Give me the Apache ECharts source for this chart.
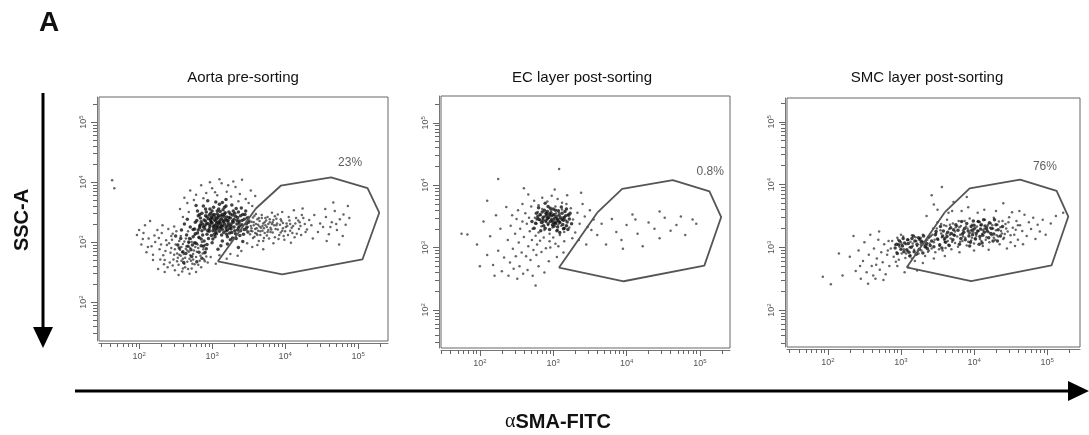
<!DOCTYPE html>
<html><head><meta charset="utf-8">
<script src="https://cdn.jsdelivr.net/npm/echarts@6/dist/echarts.min.js"></script>
<style>html,body{margin:0;padding:0;background:#fff}#chart{width:1089px;height:435px}</style>
</head><body><div id="chart"></div>
<script>
// ---- data (all coordinates are log10 of intensity: [aSMA-FITC, SSC-A]) ----
const panelTitles = ['Aorta pre-sorting', 'EC layer post-sorting', 'SMC layer post-sorting'];
const gatePercents = ['23%', '0.8%', '76%'];
const gateLabelAnchor = [[4.89, 4.33], [5.14, 4.22], [4.97, 4.28]];
const majorTicks = [2, 3, 4, 5];          // 10^2 .. 10^5
const decades = [1, 2, 3, 4, 5];
const minorMultipliers = [2, 3, 4, 5, 6, 7, 8, 9];
const xAxisTitle = 'SMA-FITC';
const yAxisTitle = 'SSC-A';

const gateVertices = [[3.60,3.56],[3.94,3.94],[4.63,4.08],[5.13,3.90],[5.29,3.49],[5.06,2.71],[3.96,2.46],[3.08,2.68]];

// Aorta pre-sorting: dense core events
const aortaDense = [
[2.74,3.21],[3.17,3.58],[2.93,2.96],[3.41,3.29],[3.05,3.67],[2.81,3.44],[3.28,3.07],[2.99,3.33],[3.46,3.52],[2.87,3.12],
[3.12,3.25],[3.36,2.91],[2.78,3.61],[3.23,3.41],[2.96,3.18],[3.08,2.88],[3.49,3.17],[2.84,3.29],[3.19,3.71],[3.01,3.05],
[3.31,3.48],[2.91,3.55],[3.14,3.02],[2.76,2.99],[3.44,3.38],[3.03,3.46],[3.26,3.22],[2.89,3.37],[3.1,3.63],[3.38,3.11],
[2.97,3.26],[3.21,2.97],[2.82,3.08],[3.15,3.35],[3.47,3.24],[3.06,3.14],[2.94,3.69],[3.33,3.56],[2.79,3.36],[3.24,3.15],
[3.0,3.4],[3.18,3.49],[2.86,3.19],[3.39,3.44],[3.09,3.3],[2.92,2.89],[3.29,3.33],[3.02,3.58],[3.42,3.01],[2.8,3.52],
[3.13,3.12],[2.98,3.48],[3.35,3.2],[3.07,3.22],[2.9,3.27],[3.2,3.27],[3.5,3.33],[2.85,2.94],[3.27,3.62],[3.04,3.09],
[3.16,3.43],[2.95,3.39],[3.37,3.35],[3.11,3.51],[2.83,3.24],[3.25,3.04],[3.01,3.19],[3.45,3.46],[2.88,3.6],[3.22,3.36],
[3.06,3.31],[2.93,3.13],[3.32,3.14],[3.14,3.66],[2.77,3.14],[3.4,3.57],[3.0,2.99],[3.19,3.19],[2.97,3.55],[3.3,3.25],
[3.08,3.41],[2.91,3.44],[3.23,3.5],[3.12,2.94],[3.43,3.13],[2.86,3.48],[3.04,3.28],[3.35,3.41],[2.99,3.11],[3.17,3.3],
[3.28,3.45],[2.94,3.31],[3.1,3.18],[3.48,3.4],[2.81,3.2],[3.21,3.09],[3.03,3.37],[3.38,3.27],[2.89,3.02],[3.15,3.54],
[3.26,3.3],[3.07,3.47],[2.96,3.22],[3.33,3.06],[3.11,3.37],[2.84,3.4],[3.44,3.21],[3.02,3.24],[3.2,3.42],[2.92,3.5],
[3.13,3.27],[3.36,3.5],[3.05,3.17],[2.98,3.35],[3.24,3.23],[3.09,3.55],[2.87,3.3],[3.3,3.38],[3.16,3.16],[3.0,3.32],
[3.41,3.36],[2.95,3.06],[3.19,3.6],[3.06,3.39],[3.27,3.16],[2.9,3.22],[3.12,3.44],[3.34,3.3],[3.04,3.21],[2.93,3.42],
[3.22,3.32],[3.08,3.26],[3.18,3.38],[2.97,3.29],[3.29,3.52],[3.14,3.21],[3.01,3.45],[3.25,3.4],[3.1,3.34],[3.39,3.19],
[2.85,3.34],[3.2,3.13],[3.07,3.52],[2.99,3.42],[3.32,3.43],[3.15,3.27],[2.91,3.35],[3.03,3.13],[3.23,3.28],[3.11,3.23],
[3.47,3.3],[2.88,3.25],[3.17,3.47],[3.05,3.35],[3.28,3.35],[2.96,3.45],[3.13,3.39],[3.36,3.24],[3.02,3.27],[3.21,3.2],
[3.09,3.44],[2.94,3.19],[3.31,3.19],[3.16,3.34],[3.0,3.52],[3.25,3.47],[3.06,3.25],[2.83,3.46],[3.42,3.46],[3.12,3.31],
[3.19,3.24],[2.98,3.38],[3.34,3.36],[3.08,3.33],[3.26,3.26],[2.92,3.3],[3.14,3.46],[3.04,3.42],[3.37,3.32],[3.2,3.36],
[2.65,3.12],[2.7,3.25],[2.58,3.2],[2.73,2.95],[2.62,3.3],[2.8,3.15],[2.67,2.93],[2.76,3.22],[2.85,3.05],[2.69,3.06],
[2.6,2.84],[2.82,2.83],[2.74,3.09],[2.88,2.93],[2.78,2.98],[2.53,2.95],[2.57,3.06],[2.64,2.81],[2.71,2.87],[2.86,2.73],
[2.5,3.1],[2.77,3.33],[2.66,3.38],[2.83,3.27],[2.72,2.76],[2.61,2.66],[2.55,2.9],[2.79,2.67],[2.9,2.82],[2.68,3.0]
];
// Aorta pre-sorting: surrounding events (left lobe, right tail, sparse)
const aortaSparse = [
[2.52,2.81],[2.71,3.05],[2.38,2.95],[2.63,2.58],[2.84,2.77],[2.46,3.14],[2.58,2.69],[2.77,2.92],[2.33,2.78],[2.69,2.47],
[2.55,3.02],[2.81,2.62],[2.42,2.66],[2.66,2.86],[2.27,3.07],[2.74,2.71],[2.49,2.53],[2.6,2.97],[2.86,3.0],[2.36,2.85],
[2.67,3.18],[2.53,2.74],[2.79,2.84],[2.44,2.9],[2.62,2.64],[2.72,2.56],[2.3,2.96],[2.57,3.1],[2.83,2.69],[2.48,2.79],
[2.65,2.93],[2.4,3.22],[2.76,3.12],[2.59,2.51],[2.5,2.96],[2.7,2.78],[2.35,2.7],[2.88,2.88],[2.61,2.8],[2.45,3.04],
[2.78,2.5],[2.54,2.62],[2.68,2.99],[2.39,2.58],[2.82,3.07],[2.56,2.87],[2.73,2.64],[2.47,2.71],[2.64,3.06],[2.31,3.15],
[2.8,2.96],[2.51,3.18],[2.69,2.72],[2.43,2.82],[2.6,2.56],[2.75,2.86],[2.37,3.03],[2.57,2.77],[2.85,2.58],[2.66,2.67],
[2.49,2.88],[2.72,3.0],[2.28,2.88],[2.63,2.74],[2.54,2.45],[2.78,2.75],[2.41,2.98],[2.67,2.55],[2.87,2.81],[2.58,2.92],
[2.34,2.63],[2.7,2.9],[2.52,2.68],[2.81,2.9],[2.46,2.61],[2.62,3.01],[2.74,2.8],[2.44,3.1],[2.59,2.83],[2.89,2.71],
[2.22,3.0],[2.19,2.79],[2.25,3.2],[2.17,2.93],[2.29,2.71],[2.26,2.55],[2.32,3.28],[2.48,3.26],[2.21,3.11],[2.35,2.5],
[2.9,2.95],[2.92,2.76],[2.94,2.66],[2.91,2.84],[2.76,2.63],[2.68,2.84],[2.55,2.79],[2.64,2.89],[2.71,2.69],[2.6,2.72],
[3.53,3.27],[3.58,3.09],[3.62,3.38],[3.55,3.18],[3.67,3.24],[3.6,3.47],[3.72,3.15],[3.57,3.33],[3.64,3.02],[3.7,3.31],
[3.76,3.42],[3.52,3.13],[3.81,3.21],[3.66,3.12],[3.74,3.36],[3.59,3.22],[3.85,3.28],[3.78,3.06],[3.63,3.29],[3.88,3.39],
[3.69,3.19],[3.92,3.12],[3.56,3.41],[3.83,3.33],[3.75,3.25],[3.97,3.23],[3.61,3.14],[3.9,3.46],[3.8,3.17],[4.02,3.31],
[3.68,3.4],[3.86,3.08],[3.95,3.35],[3.73,3.28],[4.07,3.19],[3.54,3.23],[3.99,3.04],[3.79,3.38],[4.11,3.27],[3.65,3.35],
[3.87,3.22],[4.05,3.42],[3.71,3.07],[3.93,3.29],[4.16,3.14],[3.82,3.49],[4.0,3.18],[4.2,3.33],[3.77,3.3],[4.09,3.24],
[3.94,3.16],[4.25,3.4],[3.89,3.31],[4.13,3.08],[4.03,3.27],[4.3,3.21],[4.18,3.36],[3.96,3.5],[4.36,3.28],[4.22,3.12],
[4.4,3.45],[4.27,3.3],[4.12,3.53],[4.45,3.17],[4.33,3.37],[4.08,2.99],[4.48,3.31],[3.84,2.98],[4.38,3.06],[4.24,3.56],
[3.51,3.36],[3.56,3.07],[3.6,3.3],[3.63,3.19],[3.68,3.45],[3.71,3.23],[3.75,3.11],[3.79,3.33],[3.83,3.16],[3.86,3.43],
[3.9,3.21],[3.94,3.38],[3.98,3.1],[4.01,3.25],[4.06,3.36],[4.1,3.15],[4.14,3.31],[4.19,3.22],[4.23,3.45],[4.28,3.17],
[3.53,3.19],[3.58,3.44],[3.65,3.26],[3.7,3.02],[3.77,3.2],[3.84,3.37],[3.91,3.05],[3.97,3.32],[4.04,3.12],[4.15,3.4],
[3.49,3.25],[3.62,3.12],[3.73,3.4],[3.8,3.24],[3.88,3.28],[3.96,3.19],[4.07,3.3],[4.21,3.27],[3.57,3.28],[3.66,3.18],
[3.54,3.34],[3.61,3.23],[3.69,3.27],[3.76,3.17],[3.82,3.3],[3.47,3.2],[3.5,3.42],[3.59,3.15],[3.64,3.4],[3.72,3.33],
[4.52,3.25],[4.56,3.42],[4.6,3.13],[4.64,3.33],[4.68,3.52],[4.71,3.2],[4.75,3.38],[4.79,3.1],[4.83,3.29],[4.86,3.6],
[4.57,3.02],[4.66,3.66],[4.74,2.96],[4.88,3.4],[4.62,3.25],[4.8,3.46],[4.55,3.55],[4.7,3.3],
[2.62,3.74],[2.7,3.86],[2.78,3.79],[2.85,3.95],[2.92,3.82],[3.0,3.9],[3.07,3.78],[3.13,3.98],[3.2,3.84],[3.26,3.76],
[3.32,3.92],[3.38,3.8],[3.41,4.04],[3.46,3.72],[3.53,3.86],[3.59,3.77],[3.1,4.05],[2.97,4.0],[3.29,4.01],[2.75,3.7],
[2.66,3.65],[3.04,3.83],[3.22,3.95],[2.88,3.73],[3.5,3.65],[3.36,3.68],[2.56,3.55],[2.6,3.42],[2.68,3.5],[3.55,3.6],
[1.97,3.12],[2.03,2.96],[2.08,3.28],[2.1,2.83],[2.13,3.06],[2.15,3.35],[2.06,3.15],[2.19,2.7],[1.63,4.03],[1.66,3.9],
[2.0,3.2],[2.12,2.92],[2.05,3.05],
[3.4,2.85],[3.55,2.92],[3.7,2.88],[3.25,2.8],[3.1,2.78],[2.98,2.75],[2.9,2.68],[3.2,2.72],[3.05,2.64],[3.35,2.77],
[3.48,2.98],[3.62,2.95]
];

// EC layer post-sorting
const ecDense = [
[2.71,3.42],[2.96,3.63],[3.15,3.31],[2.83,3.27],[3.04,3.5],[2.89,3.71],[3.22,3.46],[2.77,3.55],[3.09,3.24],[2.93,3.38],
[3.18,3.62],[2.86,3.48],[3.01,3.34],[2.74,3.31],[3.12,3.55],[2.95,3.29],[3.25,3.38],[2.8,3.64],[3.07,3.43],[2.91,3.52],
[3.2,3.29],[2.84,3.4],[3.03,3.6],[2.98,3.45],[3.14,3.44],[2.78,3.46],[3.06,3.33],[2.92,3.58],[3.17,3.51],[2.87,3.35],
[3.0,3.4],[3.11,3.65],[2.94,3.49],[3.23,3.55],[2.82,3.53],[3.05,3.27],[2.97,3.56],[3.13,3.37],[2.88,3.6],[3.02,3.47],
[3.19,3.41],[2.9,3.43],[3.08,3.52],[2.76,3.39],[3.16,3.58],[2.99,3.36],[3.1,3.48],[2.85,3.57],[3.04,3.41],[2.93,3.66],
[3.21,3.52],[2.81,3.45],[3.01,3.53],[3.14,3.3],[2.96,3.42],[3.07,3.59],[2.89,3.31],[3.12,3.45],[2.95,3.54],[3.03,3.38],
[2.79,3.5],[3.18,3.35],[2.92,3.47],[3.09,3.4],[3.0,3.62],[2.86,3.44],[3.15,3.48],[2.98,3.51],[3.06,3.46],[2.9,3.55]
];
const ecSparse = [
[2.72,3.3],[2.75,3.48],[2.77,3.38],[2.79,3.57],[2.8,3.24],[2.82,3.44],[2.84,3.34],[2.85,3.62],[2.87,3.5],[2.88,3.28],
[2.9,3.41],[2.91,3.55],[2.93,3.36],[2.94,3.47],[2.95,3.22],[2.97,3.6],[2.98,3.43],[2.99,3.32],[3.0,3.52],[3.02,3.39],
[3.03,3.66],[3.05,3.46],[3.06,3.28],[3.08,3.56],[3.09,3.41],[3.11,3.35],[3.12,3.61],[3.14,3.49],[3.15,3.25],[3.17,3.44],
[3.18,3.7],[3.2,3.53],[2.92,3.45],[2.96,3.52],[3.01,3.44],[2.86,3.4],[3.04,3.55],[2.89,3.5],[3.07,3.37],[2.83,3.52],
[2.38,3.12],[2.42,3.35],[2.45,2.98],[2.48,3.22],[2.5,3.46],[2.53,3.08],[2.55,3.3],[2.57,2.92],[2.6,3.17],[2.62,3.55],
[2.64,3.38],[2.66,3.02],[2.68,3.26],[2.7,3.66],[2.71,3.12],[2.73,2.96],[2.74,3.75],[2.76,3.19],[2.78,3.05],[2.8,3.68],
[2.82,3.11],[2.85,3.8],[2.87,3.16],[2.9,2.99],[2.92,3.74],[2.95,3.1],[2.98,3.83],[3.0,3.16],[3.03,3.06],[3.06,3.78],
[3.09,3.2],[3.12,3.72],[3.15,3.1],[3.19,3.84],[3.22,3.32],[3.24,3.63],[3.27,3.45],[3.3,3.24],[3.33,3.56],[3.36,3.38],
[3.4,3.7],[3.43,3.5],[3.47,3.33],[3.5,3.6],[2.58,3.42],[2.67,3.48],[2.52,3.6],[2.44,3.52],[2.63,2.86],[2.69,2.8],
[2.77,2.88],[2.84,2.93],[2.96,3.0],[3.07,3.02],[3.26,3.15],[3.35,3.12],[2.58,3.7],[2.66,3.85],[3.02,3.93],
[1.75,3.22],[1.83,3.21],[1.96,3.05],[2.05,3.42],[2.1,2.88],[2.14,3.18],[2.18,2.72],[2.22,3.52],[2.25,2.95],[2.28,3.3],
[2.3,2.62],[2.33,2.84],[2.36,3.65],[2.39,2.55],[2.41,2.76],[2.46,2.66],[2.49,2.86],[2.51,2.5],[2.54,2.7],[2.59,2.58],
[2.65,2.64],[2.72,2.55],[2.76,2.39],[2.8,2.7],[2.88,2.6],[2.94,2.78],[3.05,2.85],[3.14,2.92],[2.25,4.1],[2.1,3.75],
[3.08,4.26],[2.6,3.95],[2.0,2.7],[2.2,2.55],[3.38,3.88],[3.45,3.05],[3.52,3.28],[3.55,3.45],
[3.6,3.2],[3.66,3.38],[3.72,3.05],[3.8,3.46],[3.86,3.25],[3.93,3.12],[4.0,3.36],[4.08,3.53],[4.15,3.22],[4.22,3.02],
[4.3,3.4],[4.38,3.3],[4.45,3.15],[4.52,3.48],[4.6,3.27],[4.68,3.36],[4.74,3.5],[4.8,3.2],[4.9,3.45],[4.95,3.38],
[4.45,3.58],[3.95,2.98],[4.12,3.45]
];

// SMC layer post-sorting
const smcDense = [
[2.92,2.99],[3.05,3.07],[3.18,2.93],[3.26,3.12],[3.12,2.86],[2.98,3.1],[3.33,3.01],[3.08,2.96],[3.22,3.05],[2.95,2.9],
[3.15,3.14],[3.3,2.91],[3.02,3.02],[3.38,3.16],[3.1,3.06],[3.25,2.97],[2.97,3.04],[3.19,3.1],[3.35,3.06],[3.04,2.93],
[3.14,3.0],[3.28,3.08],[3.0,2.97],[3.21,2.89],[3.36,2.98],[3.09,3.12],[3.24,3.15],[3.42,3.1],[3.47,3.2],[3.53,3.04],
[3.58,3.26],[3.5,3.13],[3.63,3.17],[3.56,2.99],[3.68,3.31],[3.61,3.08],[3.73,3.19],[3.66,3.03],[3.78,3.27],[3.71,3.12],
[3.45,3.01],[3.54,3.33],[3.6,3.14],[3.75,3.36],[3.69,3.22],[3.82,3.14],[3.87,3.3],[3.84,3.21],[3.9,3.38],[3.93,3.18],
[3.97,3.27],[3.95,3.08],[4.0,3.35],[4.03,3.22],[4.06,3.41],[4.02,3.13],[4.09,3.29],[4.12,3.19],[4.15,3.34],[4.11,3.07],
[4.18,3.26],[4.21,3.39],[4.2,3.15],[4.24,3.3],[4.27,3.21],[4.3,3.36],[4.26,3.1],[4.33,3.28],[4.36,3.18],[4.39,3.33],
[3.88,3.12],[3.92,3.26],[3.98,3.2],[4.05,3.26],[4.08,3.17],[4.14,3.24],[3.86,3.24],[4.0,3.29],[4.17,3.3],[4.23,3.22],
[3.99,3.42],[4.13,3.44],[3.83,3.41],[4.28,3.44],[4.07,3.05],[3.94,3.02],[4.32,3.1],[3.8,3.05],[4.1,3.36],[3.96,3.33],
[3.48,3.25],[3.64,3.24],[3.72,3.28],[3.57,3.18],[3.4,3.03],[3.31,3.18],[3.17,3.18],[3.03,3.14],[2.94,3.05],[3.11,2.92]
];
const smcSparse = [
[2.86,2.98],[2.88,3.1],[2.9,2.85],[2.92,3.04],[2.94,2.92],[2.95,3.15],[2.97,2.8],[2.98,3.01],[3.0,3.08],[3.01,2.9],
[3.03,3.17],[3.04,2.97],[3.06,2.83],[3.07,3.05],[3.09,2.94],[3.1,3.12],[3.12,3.0],[3.13,2.87],[3.15,3.19],[3.16,3.06],
[3.18,2.96],[3.19,2.78],[3.21,3.1],[3.22,3.02],[3.24,2.9],[3.25,3.14],[3.27,3.04],[3.28,2.95],[3.3,3.2],[3.31,3.08],
[3.33,2.86],[3.34,3.0],[3.36,3.12],[3.37,2.93],[3.39,3.06],[2.93,2.77],[3.15,2.82],[3.29,3.1],[3.35,3.03],[3.0,3.2],
[3.41,3.18],[3.42,2.98],[3.44,3.3],[3.45,3.08],[3.47,2.92],[3.48,3.22],[3.5,3.4],[3.51,3.12],[3.53,3.02],[3.54,3.27],
[3.56,3.16],[3.57,2.95],[3.59,3.35],[3.6,3.09],[3.62,3.21],[3.63,3.44],[3.65,3.04],[3.66,3.29],[3.68,3.14],[3.69,2.97],
[3.71,3.38],[3.72,3.2],[3.74,3.07],[3.75,3.32],[3.77,3.17],[3.78,3.01],[3.79,3.42],[3.55,3.37],[3.61,2.99],[3.67,3.36],
[3.81,3.2],[3.82,3.34],[3.84,3.1],[3.85,3.27],[3.87,3.42],[3.88,3.15],[3.9,3.03],[3.91,3.3],[3.93,3.22],[3.94,3.46],
[3.96,3.11],[3.97,3.36],[3.99,3.24],[4.0,3.06],[4.02,3.31],[4.03,3.18],[4.05,3.41],[4.06,3.26],[4.08,3.13],[4.09,3.35],
[4.11,3.21],[4.12,3.02],[4.14,3.29],[4.15,3.44],[4.17,3.16],[4.18,3.33],[4.2,3.24],[4.21,3.08],[4.23,3.38],[4.24,3.19],
[4.26,3.3],[4.27,3.47],[4.29,3.12],[4.3,3.27],[4.32,3.36],[4.33,3.17],[4.35,3.05],[4.36,3.32],[4.38,3.22],[4.39,3.42],
[2.96,3.12],[3.07,2.9],[3.16,3.02],[3.27,3.15],[3.38,2.95],[3.46,3.12],[3.55,3.22],[3.62,3.34],[3.7,3.09],[3.77,3.34],
[3.85,3.17],[3.92,3.09],[4.01,3.14],[4.08,3.4],[4.16,3.12],[4.25,3.35],[4.31,3.19],[4.37,3.26],[4.44,3.3],[4.5,3.19],
[3.01,3.05],[3.13,3.09],[3.23,2.94],[3.34,3.1],[3.43,3.2],[3.52,2.97],[3.59,3.12],[3.67,3.2],[3.74,3.25],[3.81,3.09],
[3.89,3.33],[3.97,3.15],[4.04,3.33],[4.12,3.27],[4.19,3.36],[4.27,3.15],[4.34,3.41],[4.42,3.21],[4.47,3.4],[4.57,3.28],
[3.2,3.16],[3.32,3.04],[3.49,3.3],[3.64,3.1],[3.8,3.32],[3.95,3.23],[4.1,3.1],[4.22,3.31],[4.4,3.13],[4.6,3.35],
[4.41,3.15],[4.43,3.37],[4.46,3.25],[4.48,3.48],[4.5,3.08],[4.53,3.31],[4.55,3.2],[4.58,3.42],[4.6,3.12],[4.63,3.35],
[4.66,3.26],[4.69,3.52],[4.72,3.18],[4.75,3.4],[4.78,3.29],[4.81,3.47],[4.84,3.13],[4.87,3.36],[4.9,3.25],[4.94,3.44],
[4.98,3.2],[5.05,3.38],[5.12,3.5],[5.22,3.55],[4.52,3.56],[4.67,3.05],[4.45,2.98],[4.62,3.58],[4.56,3.02],
[3.42,3.83],[3.56,3.96],[3.5,3.6],[3.65,3.55],[3.72,3.72],[3.83,3.58],[3.92,3.64],[4.05,3.55],[4.14,3.6],[4.3,3.58],
[3.7,3.58],[3.35,3.5],[3.45,3.68],[4.4,3.7],[3.9,3.8],
[2.95,2.7],[3.1,2.68],[3.3,2.75],[3.45,2.82],[3.6,2.86],[3.8,2.92],[4.0,2.95],[4.2,2.96],[3.22,2.63],[3.05,2.6],
[2.3,2.85],[2.35,3.18],[2.38,2.62],[2.42,2.95],[2.45,2.5],[2.48,2.78],[2.5,3.08],[2.53,2.6],[2.56,2.88],[2.58,3.2],
[2.6,2.7],[2.63,2.98],[2.65,2.5],[2.67,2.82],[2.69,3.12],[2.71,2.64],[2.73,2.92],[2.75,2.76],[2.77,3.05],[2.79,2.57],
[2.81,2.88],[2.83,3.1],[2.84,2.7],[2.7,3.25],[2.55,2.42],[2.62,2.55],[2.76,2.48],[2.44,2.7],[2.82,2.95],[2.66,2.72],
[1.93,2.53],[2.04,2.41],[2.2,2.55],[2.15,2.9]
];

const panelDense = [aortaDense, ecDense, smcDense];
const panelSparse = [aortaSparse, ecSparse, smcSparse];

// ---- layout ----
const grids = [
  {left: 99, top: 97, width: 289, height: 244},
  {left: 441, top: 96, width: 289, height: 252},
  {left: 787, top: 98, width: 293, height: 249}
];
const xRanges = [[1.45, 5.41], [1.47, 5.41], [1.44, 5.45]];
const yRanges = [[1.35, 5.42], [1.39, 5.43], [1.41, 5.38]];
const titleCenters = [243, 582, 927];

function minorTicksWithin(r) {
  const out = [];
  decades.forEach(d => minorMultipliers.forEach(m => {
    const v = d + Math.log10(m);
    if (v > r[0] && v < r[1]) out.push(v);
  }));
  return out;
}

const tickColor = '#666';
const labelRich = {
  b: {fontSize: 9, color: '#555', fontFamily: 'Liberation Sans'},
  s: {fontSize: 6, color: '#555', fontFamily: 'Liberation Sans', padding: [0, 0, 6, 0]}
};
const powLabel = v => '{b|10}{s|' + Math.round(v) + '}';

const xAxes = [], yAxes = [], series = [];
grids.forEach((g, i) => {
  xAxes.push({
    gridIndex: i, type: 'value', min: xRanges[i][0], max: xRanges[i][1], position: 'bottom', offset: 2,
    axisLine: {show: true, lineStyle: {color: '#777', width: 1}},
    axisTick: {show: true, customValues: majorTicks, length: 6, lineStyle: {color: tickColor, width: 1}},
    axisLabel: {show: true, customValues: majorTicks, formatter: powLabel, rich: labelRich, margin: 8},
    splitLine: {show: false}
  });
  xAxes.push({
    gridIndex: i, type: 'value', min: xRanges[i][0], max: xRanges[i][1], position: 'bottom', offset: 2,
    axisLine: {show: false},
    axisTick: {show: true, customValues: minorTicksWithin(xRanges[i]), length: 4, lineStyle: {color: tickColor, width: 1}},
    axisLabel: {show: false}, splitLine: {show: false}
  });
  yAxes.push({
    gridIndex: i, type: 'value', min: yRanges[i][0], max: yRanges[i][1], position: 'left', offset: 2,
    axisLine: {show: true, lineStyle: {color: '#777', width: 1}},
    axisTick: {show: true, customValues: majorTicks, length: 6, lineStyle: {color: tickColor, width: 1}},
    axisLabel: {show: true, customValues: majorTicks, formatter: powLabel, rich: labelRich, rotate: 90, margin: 7},
    splitLine: {show: false}
  });
  yAxes.push({
    gridIndex: i, type: 'value', min: yRanges[i][0], max: yRanges[i][1], position: 'left', offset: 2,
    axisLine: {show: false},
    axisTick: {show: true, customValues: minorTicksWithin(yRanges[i]), length: 4, lineStyle: {color: tickColor, width: 1}},
    axisLabel: {show: false}, splitLine: {show: false}
  });
  series.push({
    type: 'scatter', xAxisIndex: 2 * i, yAxisIndex: 2 * i, data: panelSparse[i],
    symbol: 'circle', symbolSize: 2.5, silent: true,
    itemStyle: {color: '#2a2a2a', opacity: 0.72}
  });
  series.push({
    type: 'scatter', xAxisIndex: 2 * i, yAxisIndex: 2 * i, data: panelDense[i],
    symbol: 'circle', symbolSize: 3.5, silent: true,
    itemStyle: {color: '#111', opacity: 0.8}
  });
  series.push({
    type: 'line', xAxisIndex: 2 * i, yAxisIndex: 2 * i,
    data: gateVertices.concat([gateVertices[0]]),
    symbol: 'none', silent: true, z: 3,
    lineStyle: {color: '#555', width: 1.8}
  });
  series.push({
    type: 'scatter', xAxisIndex: 2 * i, yAxisIndex: 2 * i, data: [gateLabelAnchor[i]],
    symbolSize: 0, silent: true,
    label: {show: true, position: 'inside', formatter: gatePercents[i], fontSize: 12, color: '#333', fontFamily: 'Liberation Sans'}
  });
});

const graphics = [
  {type: 'text', left: 39, top: 9, style: {text: 'A', font: 'bold 28px "Liberation Sans"', fill: '#111'}},
  {type: 'line', shape: {x1: 43, y1: 93, x2: 43, y2: 330}, style: {stroke: '#000', lineWidth: 3}},
  {type: 'polygon', shape: {points: [[33, 327], [53, 327], [43, 348]]}, style: {fill: '#000'}},
  {type: 'text', x: 22, y: 220, rotation: Math.PI / 2,
    style: {text: yAxisTitle, font: 'bold 20px "Liberation Sans"', fill: '#111', align: 'center', verticalAlign: 'middle'}},
  {type: 'line', shape: {x1: 75, y1: 391, x2: 1072, y2: 391}, style: {stroke: '#000', lineWidth: 3}},
  {type: 'polygon', shape: {points: [[1068, 381], [1068, 401], [1089, 391]]}, style: {fill: '#000'}},
  {type: 'text', x: 558, y: 422,
    style: {text: '{a|α}{b|' + xAxisTitle + '}', align: 'center', verticalAlign: 'middle',
      rich: {a: {font: '20px "Liberation Serif"', fill: '#111'}, b: {font: 'bold 20px "Liberation Sans"', fill: '#111'}}}}
];
panelTitles.forEach((t, i) => graphics.push({
  type: 'text', x: titleCenters[i], y: 78,
  style: {text: t, font: '15px "Liberation Sans"', fill: '#111', align: 'center', verticalAlign: 'middle'}
}));

const chart = echarts.init(document.getElementById('chart'), null, {renderer: 'canvas'});
chart.setOption({
  animation: false,
  backgroundColor: '#fff',
  grid: grids.map(g => Object.assign({show: true, borderColor: '#666', borderWidth: 1, backgroundColor: 'transparent'}, g)),
  xAxis: xAxes,
  yAxis: yAxes,
  series: series,
  graphic: graphics
});
</script></body></html>
